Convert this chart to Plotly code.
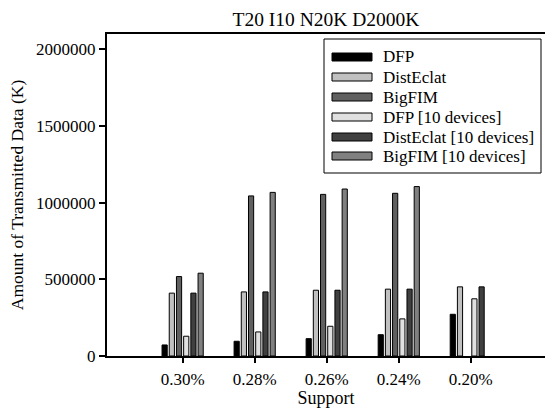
import plotly.graph_objects as go

categories = ["0.30%", "0.28%", "0.26%", "0.24%", "0.20%"]
series_names = ["DFP", "DistEclat", "BigFIM", "DFP [10 devices]", "DistEclat [10 devices]", "BigFIM [10 devices]"]
dfp = [72000, 96000, 113000, 139000, 272000]
disteclat = [410000, 418000, 429000, 436000, 451000]
bigfim = [518000, 1044000, 1054000, 1061000, None]
dfp_10 = [129000, 157000, 194000, 242000, 373000]
disteclat_10 = [410000, 418000, 429000, 436000, 451000]
bigfim_10 = [540000, 1067000, 1089000, 1105000, None]
colors = ["#000000", "#c0c0c0", "#606060", "#e0e0e0", "#404040", "#808080"]
y_ticks = [0, 500000, 1000000, 1500000, 2000000]

series_values = [dfp, disteclat, bigfim, dfp_10, disteclat_10, bigfim_10]

FONT = "Liberation Serif, Times New Roman, serif"
W, H = 545, 408
ML, MR, MT, MB = 107, 0, 34, 52

fig = go.Figure()
for name, vals, col in zip(series_names, series_values, colors):
    fig.add_trace(go.Bar(
        x=categories, y=vals, name=name,
        marker=dict(color=col, line=dict(color="#000000", width=1)),
        showlegend=False,
    ))

# custom legend (box + swatches + labels) in paper coordinates
pw, ph = W - ML - MR, H - MT - MB
def px(x):
    return (x - ML) / pw
def py(y):
    return (H - MB - y) / ph

shapes = [dict(type="rect", xref="paper", yref="paper",
               x0=px(324), x1=px(541), y0=py(173), y1=py(39),
               line=dict(color="#000000", width=1), fillcolor="#ffffff", layer="above")]
annotations = []
row_y = [57, 77, 97, 117, 137, 156]
for name, col, ry in zip(series_names, colors, row_y):
    shapes.append(dict(type="rect", xref="paper", yref="paper",
                       x0=px(332), x1=px(372), y0=py(ry + 4), y1=py(ry - 4),
                       line=dict(color="#000000", width=1), fillcolor=col, layer="above"))
    annotations.append(dict(xref="paper", yref="paper", x=px(381), y=py(ry),
                            xanchor="left", yanchor="middle", text=name, showarrow=False,
                            font=dict(family=FONT, size=17, color="#000000")))

fig.update_layout(
    width=W, height=H,
    margin=dict(l=ML, r=MR, t=MT, b=MB, pad=0),
    paper_bgcolor="#ffffff", plot_bgcolor="#ffffff",
    barmode="group", bargap=0.4, bargroupgap=0.28,
    font=dict(family=FONT, size=17, color="#000000"),
    title=dict(text="T20 I10 N20K D2000K", x=(ML + W - MR) / 2 / W, xanchor="center",
               y=1 - 19 / H, yanchor="middle", font=dict(family=FONT, size=19.5)),
    shapes=shapes, annotations=annotations,
)
fig.update_xaxes(
    type="category", range=[-1.05, 5.03],
    showline=True, linecolor="#000000", linewidth=2, mirror=True,
    ticks="outside", ticklen=5, tickwidth=2, tickcolor="#000000",
    ticklabelstandoff=2,
    showgrid=False, zeroline=False,
    tickfont=dict(family=FONT, size=17),
    title=dict(text="Support", font=dict(family=FONT, size=18), standoff=4),
)
fig.update_yaxes(
    range=[0, 2100000],
    tickvals=y_ticks, tickformat="d",
    showline=True, linecolor="#000000", linewidth=2,
    ticks="outside", ticklen=6, tickwidth=2, tickcolor="#000000",
    showgrid=False, zeroline=False,
    tickfont=dict(family=FONT, size=17),
    title=dict(text="Amount of Transmitted Data (K)", font=dict(family=FONT, size=17.5), standoff=8),
)

fig.write_html("out.html")
